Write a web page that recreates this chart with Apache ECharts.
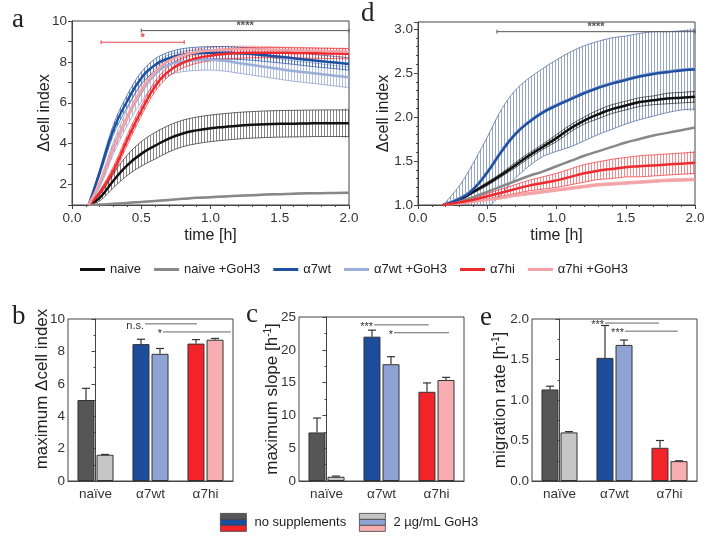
<!DOCTYPE html>
<html>
<head>
<meta charset="utf-8">
<script src="https://cdn.jsdelivr.net/npm/echarts@6/dist/echarts.min.js"></script>
<style>
html, body { margin: 0; padding: 0; background: #fff; }
#chart { width: 713px; height: 538px; }
</style>
</head>
<body>
<div id="chart"></div>
<script>
// ---- panel a: delta cell index over time (h) ----
var timeA = [0.12, 0.2, 0.3, 0.4, 0.5, 0.6, 0.7, 0.8, 0.9, 1.0, 1.1, 1.2, 1.3, 1.4, 1.5, 1.6, 1.7, 1.8, 1.9, 2.0];
var naiveA    = [1.0, 1.35, 2.2, 2.95, 3.5, 3.9, 4.25, 4.5, 4.65, 4.75, 4.82, 4.88, 4.92, 4.95, 4.97, 4.98, 4.99, 5.0, 5.0, 5.0];
var naiveAErr = [0, 0.15, 0.35, 0.5, 0.6, 0.65, 0.65, 0.65, 0.65, 0.65, 0.65, 0.65, 0.65, 0.65, 0.65, 0.65, 0.65, 0.65, 0.65, 0.65];
var naiveGA    = [1.0, 1.02, 1.06, 1.1, 1.15, 1.2, 1.25, 1.3, 1.35, 1.38, 1.42, 1.45, 1.48, 1.51, 1.53, 1.55, 1.57, 1.58, 1.59, 1.6];
var naiveGAErr = [0, 0.01, 0.02, 0.02, 0.02, 0.02, 0.02, 0.02, 0.02, 0.02, 0.02, 0.02, 0.02, 0.02, 0.02, 0.02, 0.02, 0.02, 0.02, 0.02];
var wtA    = [1.0, 2.6, 4.7, 6.1, 7.2, 7.85, 8.18, 8.35, 8.42, 8.45, 8.45, 8.42, 8.38, 8.32, 8.25, 8.18, 8.1, 8.03, 7.97, 7.9];
var wtAErr = [0, 0.15, 0.25, 0.3, 0.3, 0.3, 0.3, 0.3, 0.3, 0.3, 0.3, 0.3, 0.3, 0.3, 0.3, 0.3, 0.3, 0.3, 0.3, 0.3];
var wtGA    = [1.0, 2.0, 3.8, 5.3, 6.5, 7.4, 7.85, 8.02, 8.08, 8.1, 8.05, 7.95, 7.85, 7.75, 7.65, 7.55, 7.48, 7.4, 7.32, 7.25];
var wtGAErr = [0, 0.15, 0.3, 0.4, 0.45, 0.5, 0.5, 0.5, 0.5, 0.5, 0.5, 0.5, 0.5, 0.5, 0.5, 0.5, 0.5, 0.5, 0.5, 0.5];
var hiA    = [1.0, 1.6, 2.7, 4.2, 5.6, 6.8, 7.55, 7.95, 8.18, 8.3, 8.38, 8.43, 8.45, 8.45, 8.45, 8.44, 8.43, 8.42, 8.41, 8.4];
var hiAErr = [0, 0.1, 0.2, 0.25, 0.25, 0.25, 0.25, 0.25, 0.25, 0.25, 0.25, 0.25, 0.25, 0.25, 0.25, 0.25, 0.25, 0.25, 0.25, 0.25];
var hiGA    = [1.0, 2.1, 3.8, 5.3, 6.6, 7.5, 8.05, 8.32, 8.48, 8.56, 8.6, 8.62, 8.62, 8.6, 8.58, 8.56, 8.55, 8.53, 8.52, 8.5];
var hiGAErr = [0, 0.1, 0.15, 0.15, 0.15, 0.15, 0.15, 0.15, 0.15, 0.15, 0.15, 0.15, 0.15, 0.15, 0.15, 0.15, 0.15, 0.15, 0.15, 0.15];

// ---- panel d ----
var timeD = [0.18, 0.3, 0.4, 0.5, 0.6, 0.7, 0.8, 0.9, 1.0, 1.1, 1.2, 1.3, 1.4, 1.5, 1.6, 1.7, 1.8, 1.9, 2.0];
var naiveD    = [1.0, 1.06, 1.15, 1.24, 1.34, 1.45, 1.56, 1.66, 1.76, 1.87, 1.96, 2.03, 2.09, 2.13, 2.17, 2.19, 2.21, 2.22, 2.23];
var naiveDErr = [0, 0.01, 0.01, 0.02, 0.02, 0.03, 0.03, 0.03, 0.04, 0.04, 0.04, 0.05, 0.05, 0.05, 0.05, 0.05, 0.06, 0.06, 0.06];
var naiveGD    = [1.0, 1.04, 1.09, 1.15, 1.21, 1.27, 1.33, 1.38, 1.44, 1.5, 1.56, 1.61, 1.66, 1.71, 1.75, 1.79, 1.82, 1.85, 1.88];
var wtD    = [1.0, 1.07, 1.18, 1.37, 1.6, 1.8, 1.94, 2.05, 2.13, 2.2, 2.27, 2.33, 2.38, 2.42, 2.46, 2.49, 2.51, 2.53, 2.54];
var wtDErr = [0, 0.15, 0.3, 0.4, 0.48, 0.5, 0.5, 0.5, 0.52, 0.54, 0.54, 0.53, 0.52, 0.5, 0.49, 0.48, 0.46, 0.45, 0.45];
var wtGD    = [1.0, 1.08, 1.19, 1.38, 1.61, 1.81, 1.95, 2.06, 2.14, 2.21, 2.28, 2.34, 2.39, 2.43, 2.47, 2.5, 2.52, 2.54, 2.55];
var hiD    = [1.0, 1.03, 1.06, 1.1, 1.14, 1.18, 1.22, 1.25, 1.28, 1.32, 1.36, 1.39, 1.41, 1.43, 1.44, 1.45, 1.46, 1.47, 1.48];
var hiDErr = [0, 0.01, 0.02, 0.03, 0.04, 0.05, 0.06, 0.07, 0.08, 0.09, 0.1, 0.1, 0.11, 0.11, 0.12, 0.12, 0.12, 0.12, 0.12];
var hiGD    = [1.0, 1.02, 1.04, 1.06, 1.08, 1.11, 1.13, 1.15, 1.17, 1.19, 1.21, 1.23, 1.24, 1.25, 1.26, 1.27, 1.28, 1.285, 1.29];
var hiGDErr = [0, 0.01, 0.01, 0.01, 0.01, 0.015, 0.015, 0.015, 0.015, 0.015, 0.015, 0.015, 0.015, 0.015, 0.015, 0.015, 0.015, 0.015, 0.015];

// ---- bar panels b, c, e ----
var cats = ['naïve', 'α7wt', 'α7hi'];
var maxCI = [5.0, 8.45, 8.48];      var maxCIErr = [0.72, 0.3, 0.25];
var maxCIG = [1.62, 7.85, 8.72];    var maxCIGErr = [0.02, 0.33, 0.08];
var slope = [7.4, 22.0, 13.6];      var slopeErr = [2.2, 1.0, 1.35];
var slopeG = [0.65, 17.8, 15.4];    var slopeGErr = [0.1, 1.15, 0.4];
var migr = [1.13, 1.52, 0.41];      var migrErr = [0.04, 0.4, 0.09];
var migrG = [0.6, 1.68, 0.245];     var migrGErr = [0.01, 0.06, 0.005];

// significance brackets: [from, to, level, label]
var sigA = [[0.5, 2.0, 9.53, '****']];
var sigARed = [[0.21, 0.81, 8.96, '*']];
var sigD = [[0.57, 2.0, 2.97, '****']];
var sigB = [[0.9, 1.845, 9.7, 'n.s.'], [1.227, 2.46, 9.2, '*']];
var sigC = [[0.864, 1.86, 23.8, '***'], [1.227, 2.227, 22.6, '*']];
var sigE = [[0.827, 1.81, 1.95, '***'], [1.19, 2.15, 1.85, '***']];

var FONT = 'Liberation Sans, Arial, sans-serif';
var darkCols = ['#565656', '#1c4c9c', '#f2242a'];
var lightCols = ['#c6c6c6', '#8ea3d4', '#f8aeb0'];
var names = ['naive', 'naive +GoH3', 'α7wt', 'α7wt +GoH3', 'α7hi', 'α7hi +GoH3'];
var lineCols = ['#111111', '#888888', '#1f4f9f', '#9aafd8', '#ee2a2f', '#f3a3a6'];

// vertical hatching that mimics the dense error bars
function hatch(color, alpha) {
    var c = document.createElement('canvas');
    c.width = 3; c.height = 2;
    var g = c.getContext('2d');
    g.globalAlpha = alpha;
    g.fillStyle = color;
    g.fillRect(0, 0, 1, 2);
    return { image: c, repeat: 'repeat' };
}

function meanLine(name, ax, time, vals, color) {
    return {
        name: name, type: 'line', xAxisIndex: ax, yAxisIndex: ax,
        data: time.map(function (t, i) { return [t, vals[i]]; }),
        smooth: true, symbol: 'none', z: 4,
        lineStyle: { width: 2.5, color: color }, itemStyle: { color: color }
    };
}

function errBand(ax, time, vals, err, color, alpha) {
    return {
        type: 'custom', xAxisIndex: ax, yAxisIndex: ax, silent: true, z: 2, clip: true,
        data: [[time[0], vals[0]]], encode: { x: 0, y: 1 },
        renderItem: function (params, api) {
            var up = [], lo = [];
            for (var i = 0; i < time.length; i++) {
                up.push(api.coord([time[i], vals[i] + err[i]]));
                lo.push(api.coord([time[i], vals[i] - err[i]]));
            }
            var poly = up.concat(lo.slice().reverse());
            var edge = { stroke: color, lineWidth: 0.8, fill: null, opacity: 0.85 };
            return { type: 'group', children: [
                { type: 'polygon', shape: { points: poly, smooth: 0.35 }, style: { fill: hatch(color, alpha) } },
                { type: 'polyline', shape: { points: up, smooth: 0.35 }, style: edge },
                { type: 'polyline', shape: { points: lo, smooth: 0.35 }, style: edge }
            ] };
        }
    };
}

function sigSeries(xAx, yAx, items, color, textMode) {
    return {
        type: 'custom', xAxisIndex: xAx, yAxisIndex: yAx, silent: true, z: 6,
        data: items.map(function (d) { return [d[0], d[1], d[2]]; }),
        encode: { x: [0, 1], y: 2 },
        renderItem: function (params, api) {
            var d = items[params.dataIndex];
            var p1 = api.coord([d[0], d[2]]);
            var p2 = api.coord([d[1], d[2]]);
            var kids = [
                { type: 'line', shape: { x1: p1[0], y1: p1[1], x2: p2[0], y2: p2[1] },
                  style: { stroke: color, lineWidth: 1 } }
            ];
            if (textMode === 'center') {
                kids.push({ type: 'line', shape: { x1: p1[0], y1: p1[1] - 2, x2: p1[0], y2: p1[1] + 2 }, style: { stroke: color, lineWidth: 1 } });
                kids.push({ type: 'line', shape: { x1: p2[0], y1: p2[1] - 2, x2: p2[0], y2: p2[1] + 2 }, style: { stroke: color, lineWidth: 1 } });
                kids.push({ type: 'text', style: { text: d[3], x: (p1[0] + p2[0]) / 2, y: p1[1] + 1,
                    align: 'center', verticalAlign: 'bottom', fill: color, font: 'bold 11px ' + FONT } });
            } else {
                kids.push({ type: 'text', style: { text: d[3], x: p1[0] - 1, y: p1[1] + 2,
                    align: 'right', verticalAlign: 'middle', fill: '#333', font: '11px ' + FONT } });
            }
            return { type: 'group', children: kids };
        }
    };
}

function barPair(ax, vals, valsG) {
    var base = { type: 'bar', xAxisIndex: ax, yAxisIndex: ax, barWidth: 17, barGap: '12%', z: 3, silent: true };
    return [
        Object.assign({}, base, { data: vals.map(function (v, i) {
            return { value: v, itemStyle: { color: darkCols[i], borderColor: '#333', borderWidth: 1 } }; }) }),
        Object.assign({}, base, { data: valsG.map(function (v, i) {
            return { value: v, itemStyle: { color: lightCols[i], borderColor: '#333', borderWidth: 1 } }; }) })
    ];
}

function errBars(ax, vals, err, offset) {
    return {
        type: 'custom', xAxisIndex: ax, yAxisIndex: ax, silent: true, z: 5,
        data: vals.map(function (v, i) { return [i, v, err[i]]; }),
        encode: { x: 0, y: 1 },
        renderItem: function (params, api) {
            var b = api.coord([api.value(0), api.value(1)]);
            var t = api.coord([api.value(0), api.value(1) + api.value(2)]);
            var x = b[0] + offset;
            return { type: 'group', children: [
                { type: 'line', shape: { x1: x, y1: b[1], x2: x, y2: t[1] }, style: { stroke: '#333', lineWidth: 1.2 } },
                { type: 'line', shape: { x1: x - 4, y1: t[1], x2: x + 4, y2: t[1] }, style: { stroke: '#333', lineWidth: 1.2 } }
            ] };
        }
    };
}

var grids = [
    { left: 72, top: 21, width: 277, height: 184 },
    { left: 418, top: 22, width: 277, height: 183 },
    { left: 68, top: 319, width: 165, height: 162 },
    { left: 299, top: 317, width: 165, height: 164 },
    { left: 532, top: 319, width: 165, height: 162 }
].map(function (g) {
    return Object.assign({ show: true, borderColor: '#444', borderWidth: 1, outerBoundsMode: 'none' }, g);
});

var axisLine = { show: true, lineStyle: { color: '#444', width: 1 } };
var labelStyle = { color: '#333', fontSize: 13.5, fontFamily: FONT };

function timeAxis(gi) {
    return {
        type: 'value', gridIndex: gi, min: 0, max: 2, interval: 0.5,
        name: 'time [h]', nameLocation: 'middle', nameGap: 23, nameMoveOverlap: false,
        nameTextStyle: { fontSize: 16, color: '#222', fontFamily: FONT },
        axisLine: axisLine, splitLine: { show: false },
        axisTick: { show: true, length: 4, lineStyle: { color: '#444' } },
        minorTick: { show: true, splitNumber: 5, length: 2, lineStyle: { color: '#444' } },
        axisLabel: Object.assign({ margin: 6, formatter: function (v) { return v.toFixed(1); } }, labelStyle)
    };
}

function catAxis(gi) {
    return {
        type: 'category', gridIndex: gi, data: cats,
        axisLine: axisLine, axisTick: { show: false },
        axisLabel: Object.assign({ margin: 6 }, labelStyle)
    };
}

function hiddenAxis(gi) {
    return { type: 'value', gridIndex: gi, min: -0.5, max: 2.5, show: false };
}

function valAxis(gi, min, max, interval, name, gap, fmt, minorSplit, shift) {
    return {
        type: 'value', gridIndex: gi, min: min, max: max, interval: interval,
        name: name, nameLocation: 'middle', nameGap: gap, nameMoveOverlap: false,
        nameTextStyle: { fontSize: gi < 2 ? 16 : 17, color: '#222', fontFamily: FONT,
            padding: [0, 0, 0, shift || 0],
            rich: { sup: { fontSize: 10, color: '#222', fontFamily: FONT, padding: [0, 0, 8, 0] } } },
        axisLine: axisLine, splitLine: { show: false },
        axisTick: { show: true, length: 4, lineStyle: { color: '#444' } },
        minorTick: { show: true, splitNumber: minorSplit, length: 2, lineStyle: { color: '#444' } },
        axisLabel: Object.assign({ margin: gi < 2 ? 5 : 3, formatter: fmt, showMaxLabel: true }, labelStyle)
    };
}

var series = [];
// mean lines first (legend picks up their colours)
series.push(meanLine(names[0], 0, timeA, naiveA, lineCols[0]));
series.push(meanLine(names[1], 0, timeA, naiveGA, lineCols[1]));
series.push(meanLine(names[2], 0, timeA, wtA, lineCols[2]));
series.push(meanLine(names[3], 0, timeA, wtGA, lineCols[3]));
series.push(meanLine(names[4], 0, timeA, hiA, lineCols[4]));
series.push(meanLine(names[5], 0, timeA, hiGA, lineCols[5]));
series.push(meanLine(names[0], 1, timeD, naiveD, lineCols[0]));
series.push(meanLine(names[1], 1, timeD, naiveGD, lineCols[1]));
series.push(meanLine(names[3], 1, timeD, wtGD, lineCols[3]));
series.push(meanLine(names[2], 1, timeD, wtD, lineCols[2]));
series.push(meanLine(names[5], 1, timeD, hiGD, lineCols[5]));
series.push(meanLine(names[4], 1, timeD, hiD, lineCols[4]));

series.push(
    errBand(0, timeA, wtGA, wtGAErr, '#7f95c8', 0.6),
    errBand(0, timeA, hiGA, hiGAErr, '#ee8c90', 0.6),
    errBand(0, timeA, wtA, wtAErr, '#1f4f9f', 0.6),
    errBand(0, timeA, hiA, hiAErr, '#ee2a2f', 0.6),
    errBand(0, timeA, naiveA, naiveAErr, '#222222', 0.55),
    errBand(0, timeA, naiveGA, naiveGAErr, '#888888', 0.5),
    errBand(1, timeD, wtD, wtDErr, '#3f5f98', 0.55),
    errBand(1, timeD, naiveD, naiveDErr, '#222222', 0.5),
    errBand(1, timeD, hiD, hiDErr, '#ee2a2f', 0.55),
    errBand(1, timeD, hiGD, hiGDErr, '#f08a8e', 0.5)
);

series.push(sigSeries(0, 0, sigA, '#555', 'center'));
series.push(sigSeries(0, 0, sigARed, '#e4474c', 'center'));
series.push(sigSeries(1, 1, sigD, '#555', 'center'));

series = series.concat(barPair(2, maxCI, maxCIG), barPair(3, slope, slopeG), barPair(4, migr, migrG));
series.push(errBars(2, maxCI, maxCIErr, -9.5), errBars(2, maxCIG, maxCIGErr, 9.5));
series.push(errBars(3, slope, slopeErr, -9.5), errBars(3, slopeG, slopeGErr, 9.5));
series.push(errBars(4, migr, migrErr, -9.5), errBars(4, migrG, migrGErr, 9.5));
series.push(sigSeries(5, 2, sigB, '#666', 'left'));
series.push(sigSeries(6, 3, sigC, '#666', 'left'));
series.push(sigSeries(7, 4, sigE, '#666', 'left'));

function fmtEven(v) { return v % 2 === 0 ? String(v) : ''; }
function fmtHalf(v) { return Math.abs(v * 2 - Math.round(v * 2)) < 1e-6 ? v.toFixed(1) : ''; }
function fmtInt(v) { return String(v); }

var letters = [['a', 12, 36], ['d', 361, 30], ['b', 12, 333], ['c', 246, 331], ['e', 480, 334]];
var graphic = letters.map(function (l) {
    return { type: 'text', left: l[1], top: l[2] - 30, style: { text: l[0], font: '27px Liberation Serif, serif', fill: '#222' } };
});
function swatch(x, cols, label) {
    return { type: 'group', left: x, top: 513, children: [
        { type: 'rect', shape: { x: 0, y: 0, width: 26, height: 6 }, style: { fill: cols[0], stroke: '#444', lineWidth: 0.8 } },
        { type: 'rect', shape: { x: 0, y: 6, width: 26, height: 6 }, style: { fill: cols[1], stroke: '#444', lineWidth: 0.8 } },
        { type: 'rect', shape: { x: 0, y: 12, width: 26, height: 6 }, style: { fill: cols[2], stroke: '#444', lineWidth: 0.8 } },
        { type: 'text', x: 34, y: 9, style: { text: label, font: '13px ' + FONT, fill: '#222', verticalAlign: 'middle' } }
    ] };
}
graphic.push(swatch(220, darkCols, 'no supplements'));
graphic.push(swatch(359, lightCols, '2 µg/mL GoH3'));

var chart = echarts.init(document.getElementById('chart'));
chart.setOption({
    backgroundColor: '#fff',
    animation: false,
    textStyle: { fontFamily: FONT },
    legend: {
        left: 75, top: 258, itemGap: 13, itemWidth: 25, itemHeight: 3, icon: 'rect',
        data: names, selectedMode: false,
        textStyle: { fontSize: 13, color: '#222', fontFamily: FONT }
    },
    grid: grids,
    xAxis: [timeAxis(0), timeAxis(1), catAxis(2), catAxis(3), catAxis(4), hiddenAxis(2), hiddenAxis(3), hiddenAxis(4)],
    yAxis: [
        valAxis(0, 1, 10, 1, 'Δcell index', 19, fmtEven, 1),
        valAxis(1, 1, 3.08, 0.5, 'Δcell index', 26, fmtHalf, 5),
        valAxis(2, 0, 10, 2, 'maximum Δcell index', 17, fmtInt, 2, 22),
        valAxis(3, 0, 25, 5, 'maximum slope [h{sup|-1}]', 18, fmtInt, 2),
        valAxis(4, 0, 2, 0.5, 'migration rate [h{sup|-1}]', 23, function (v) { return v.toFixed(1); }, 2)
    ],
    series: series,
    graphic: graphic
});
</script>
</body>
</html>
